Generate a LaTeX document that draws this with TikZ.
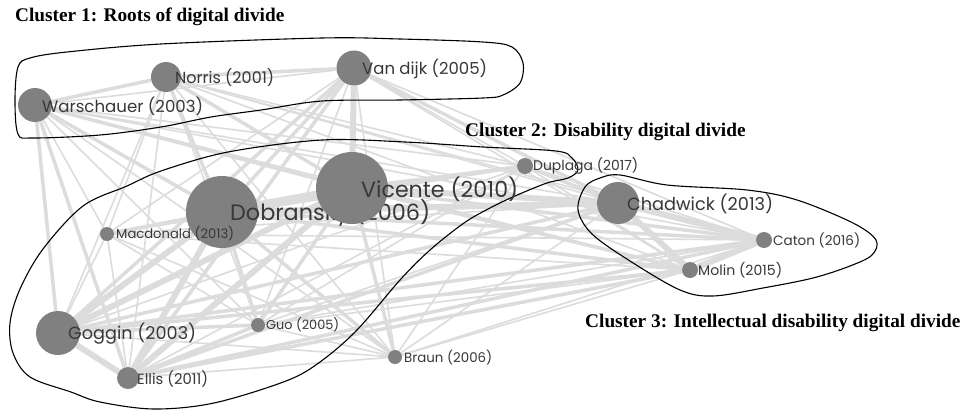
\documentclass[tikz,border=0pt]{standalone}
\usepackage{fontspec}
\usetikzlibrary{backgrounds}
\newfontfamily\labelfont{Poppins}
\newfontfamily\titlefont{Liberation Serif}
\definecolor{edgegray}{HTML}{DCDCDC}
\definecolor{nodegray}{HTML}{808080}
\definecolor{labelgray}{HTML}{383838}

% set a label in the label font, scaled so that it spans the given width (pt)
\newlength\paperlblwd
\newcommand\fitlabel[2]{%
  \settowidth\paperlblwd{\labelfont\fontsize{10pt}{12pt}\selectfont #2}%
  \pgfmathsetmacro\paperlblsize{10*#1/\paperlblwd}%
  {\labelfont\fontsize{\paperlblsize pt}{\paperlblsize pt}\selectfont #2}}

\begin{document}
\begin{tikzpicture}[x=1pt,y=-1pt,
  paper/.style={circle, fill=nodegray, inner sep=0pt, minimum size=#1},
  paperlabel/.style={anchor=west, inner sep=0pt, text=labelgray},
  title/.style={anchor=base west, inner sep=0pt, text=black,
    font=\titlefont\bfseries\fontsize{19.3pt}{22pt}\selectfont},
  hull/.style={draw=black, line width=1.1pt},
  link/.style={draw=edgegray, line width=#1},
]
\useasboundingbox (0,0) rectangle (963,412);

% ---- cluster outlines ----
\draw[hull] plot[smooth cycle, tension=0.55] coordinates {
  (18,67) (30,58) (67,52) (161,44) (322,38) (400,39) (483,42) (512,47)
  (523,63) (520,83) (503,95) (483,98) (400,100) (322,101) (261,110)
  (211,117) (161,127) (100,135) (33,138) (18,134) (15,100)};
\draw[hull] plot[smooth cycle, tension=0.55] coordinates {
  (83,206) (127,186) (161,171) (228,152) (322,140) (405,142) (483,147)
  (556,151) (572,158) (578,170) (568,178) (547,183) (515,196) (490,208)
  (464,223) (430,250) (400,280) (357,330) (320,362) (286,381) (214,403)
  (154,409) (100,402) (71,392) (30,377) (13,353) (10,323) (20,289) (43,249)};
\draw[hull] plot[smooth cycle, tension=0.55] coordinates {
  (585,187) (600,178) (620,175) (667,185) (747,190) (797,200) (853,223)
  (876,240) (872,255) (850,266) (813,278) (763,288) (713,296) (680,290)
  (630,261) (592,234) (578,210)};

% ---- papers ----
\node[paper=34pt]  (W)  at (35,105)  {};
\node[paper=30pt]  (N)  at (166,77)  {};
\node[paper=35pt]  (V)  at (354,68)  {};
\node[paper=72pt]  (D)  at (222,212) {};
\node[paper=16pt]  (Du) at (525,166) {};
\node[paper=14pt]  (M)  at (107,234) {};
\node[paper=44pt]  (G)  at (58,333)  {};
\node[paper=22pt]  (E)  at (128,378) {};
\node[paper=14pt]  (Gu) at (258,325) {};
\node[paper=14pt]  (B)  at (395,357) {};
\node[paper=42pt]  (C)  at (618,203) {};
\node[paper=16pt]  (Ca) at (764,240) {};
\node[paper=16pt]  (Mo) at (690,270) {};

\node[paperlabel] (W-l)  at (42,106)  {\fitlabel{161}{Warschauer (2003)}};
\node[paperlabel] (N-l)  at (175,78)  {\fitlabel{99}{Norris (2001)}};
\node[paperlabel] (V-l)  at (362,69)  {\fitlabel{125}{Van dijk (2005)}};
\node[paperlabel] (D-l)  at (230,213) {\fitlabel{200}{Dobransky (2006)}};
\node[paperlabel] (Du-l) at (533,166) {\fitlabel{105}{Duplaga (2017)}};
\node[paperlabel] (M-l)  at (116,234) {\fitlabel{118}{Macdonald (2013)}};
\node[paperlabel] (G-l)  at (68,334)  {\fitlabel{128}{Goggin (2003)}};
\node[paperlabel] (E-l)  at (137,379) {\fitlabel{71}{Ellis (2011)}};
\node[paperlabel] (Gu-l) at (266,325) {\fitlabel{73}{Guo (2005)}};
\node[paperlabel] (B-l)  at (404,357) {\fitlabel{88}{Braun (2006)}};
\node[paperlabel] (C-l)  at (627,204) {\fitlabel{146}{Chadwick (2013)}};
\node[paperlabel] (Ca-l) at (773,240) {\fitlabel{87}{Caton (2016)}};
\node[paperlabel] (Mo-l) at (698,270) {\fitlabel{84}{Molin (2015)}};

% Vicente sits above the Dobransky label
\node[paper=72pt]  (Vi) at (352,188) {};
\node[paperlabel] (Vi-l) at (361,189) {\fitlabel{157}{Vicente (2010)}};

% ---- co-citation links ----
\begin{pgfonlayer}{background}
  \fill[white] (0,0) rectangle (963,412);
  \foreach \a/\b in {W/V,W/Du,W/M,W/Gu,W/B,W/C,W/Ca,W/Mo,
      N/Du,N/M,N/G,N/E,N/Gu,N/B,N/C,N/Ca,N/Mo,
      V/Du,V/M,V/Gu,V/B,V/Ca,V/Mo,
      Du/M,Du/G,Du/E,Du/Gu,Du/B,Du/Ca,Du/Mo,
      M/G,M/E,M/Gu,M/B,M/C,M/Ca,M/Mo,
      G/B,E/B,Gu/B,Gu/C,Gu/Ca,Gu/Mo,B/C,B/Ca,B/Mo}
    \draw[link=1.6pt] (\a) -- (\b);
  \foreach \a/\b in {W/N,N/V,V/D,W/D,N/D,N/Vi,W/Vi,M/D,M/Vi,G/Gu,E/Gu,
      Gu/D,Gu/Vi,Vi/Du,D/Du,Du/C,G/C,E/C,Vi/Mo,Vi/Ca,D/Mo,D/Ca,G/Mo,
      G/Ca,E/Mo,E/Ca,B/Vi,B/D,G/V,E/V,W/G,W/E,V/C}
    \draw[link=3.5pt] (\a) -- (\b);
  \foreach \a/\b in {V/Vi,G/D,G/Vi,E/Vi,E/D,C/Ca,C/Mo,Ca/Mo,Vi/C,D/C,G/E}
    \draw[link=6pt] (\a) -- (\b);
  \draw[link=8pt] (D) -- (Vi);
\end{pgfonlayer}

% ---- cluster titles ----
\node[title] (t1) at (15,22)  {Cluster 1: Roots of digital divide};
\node[title] (t2) at (465,136) {Cluster 2: Disability digital divide};
\node[title] (t3) at (585,327) {Cluster 3: Intellectual disability digital divide};
\end{tikzpicture}
\end{document}
